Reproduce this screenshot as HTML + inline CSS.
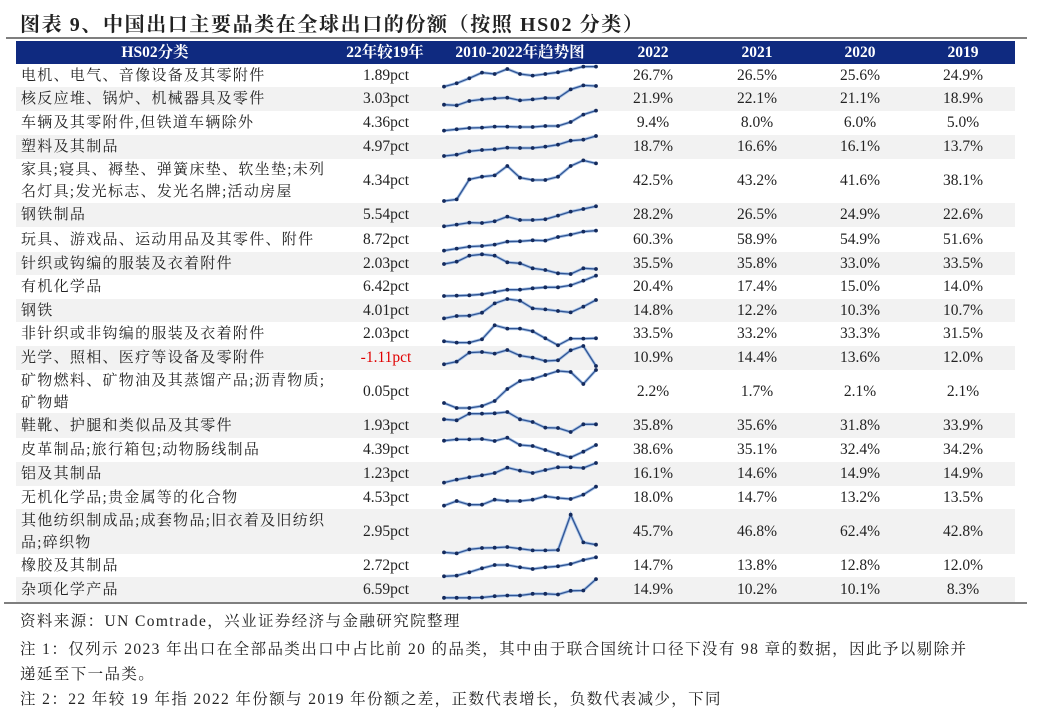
<!DOCTYPE html>
<html><head><meta charset="utf-8">
<style>
body{margin:0;width:1053px;height:720px;background:#fff;position:relative;overflow:hidden;font-family:"Liberation Serif","Noto Serif CJK SC",serif;color:#222}
.abs{position:absolute}
#title{left:20px;top:8px;font-size:20px;font-weight:bold;letter-spacing:1.6px;white-space:nowrap;font-family:"Liberation Serif","Noto Serif CJK SC",serif}
.hdr{top:41px;height:23px;line-height:23px;color:#fff;font-weight:bold;font-size:15.5px;text-align:center}
.row{left:16px;width:999px}
.cat{left:21px;font-size:15px;line-height:22px;letter-spacing:1.3px;white-space:nowrap}
.num{font-size:15.5px;text-align:center;width:100px}
.note{left:20px;font-size:15.5px;letter-spacing:1.4px;white-space:nowrap}
</style></head><body>
<div id="title" class="abs">图表 9、中国出口主要品类在全球出口的份额（按照 HS02 分类）</div>
<div class="abs" style="left:6px;top:37px;width:1021px;height:2px;background:#7f7f7f"></div>
<div class="abs" style="left:16px;top:41px;width:999px;height:23px;background:#0f2a80"></div>
<div class="abs hdr" style="left:100px;width:110px">HS02分类</div>
<div class="abs hdr" style="left:330px;width:110px">22年较19年</div>
<div class="abs hdr" style="left:445px;width:150px">2010-2022年趋势图</div>
<div class="abs hdr" style="left:603px;width:100px">2022</div>
<div class="abs hdr" style="left:707px;width:100px">2021</div>
<div class="abs hdr" style="left:810px;width:100px">2020</div>
<div class="abs hdr" style="left:913px;width:100px">2019</div>
<div id="rows"></div>
<svg id="spark" class="abs" style="left:0;top:0" width="1053" height="720"></svg>
<div class="abs" style="left:4px;top:602px;width:1023px;height:2px;background:#7f7f7f"></div>
<div class="abs note" style="top:609px">资料来源：UN Comtrade，兴业证券经济与金融研究院整理</div>
<div class="abs note" style="top:637px;line-height:25px">注 1：仅列示 2023 年出口在全部品类出口中占比前 20 的品类，其中由于联合国统计口径下没有 98 章的数据，因此予以剔除并<br>递延至下一品类。</div>
<div class="abs note" style="top:687px">注 2：22 年较 19 年指 2022 年份额与 2019 年份额之差，正数代表增长，负数代表减少，下同</div>
<script>
const categories=["电机、电气、音像设备及其零附件","核反应堆、锅炉、机械器具及零件","车辆及其零附件,但铁道车辆除外","塑料及其制品","家具;寝具、褥垫、弹簧床垫、软坐垫;未列<br>名灯具;发光标志、发光名牌;活动房屋","钢铁制品","玩具、游戏品、运动用品及其零件、附件","针织或钩编的服装及衣着附件","有机化学品","钢铁","非针织或非钩编的服装及衣着附件","光学、照相、医疗等设备及零附件","矿物燃料、矿物油及其蒸馏产品;沥青物质;<br>矿物蜡","鞋靴、护腿和类似品及其零件","皮革制品;旅行箱包;动物肠线制品","铝及其制品","无机化学品;贵金属等的化合物","其他纺织制成品;成套物品;旧衣着及旧纺织<br>品;碎织物","橡胶及其制品","杂项化学产品"];
const diffLabels=["1.89pct","3.03pct","4.36pct","4.97pct","4.34pct","5.54pct","8.72pct","2.03pct","6.42pct","4.01pct","2.03pct","-1.11pct","0.05pct","1.93pct","4.39pct","1.23pct","4.53pct","2.95pct","2.72pct","6.59pct"];
const v2022=["26.7%","21.9%","9.4%","18.7%","42.5%","28.2%","60.3%","35.5%","20.4%","14.8%","33.5%","10.9%","2.2%","35.8%","38.6%","16.1%","18.0%","45.7%","14.7%","14.9%"];
const v2021=["26.5%","22.1%","8.0%","16.6%","43.2%","26.5%","58.9%","35.8%","17.4%","12.2%","33.2%","14.4%","1.7%","35.6%","35.1%","14.6%","14.7%","46.8%","13.8%","10.2%"];
const v2020=["25.6%","21.1%","6.0%","16.1%","41.6%","24.9%","54.9%","33.0%","15.0%","10.3%","33.3%","13.6%","2.1%","31.8%","32.4%","14.9%","13.2%","62.4%","12.8%","10.1%"];
const v2019=["24.9%","18.9%","5.0%","13.7%","38.1%","22.6%","51.6%","33.5%","14.0%","10.7%","31.5%","12.0%","2.1%","33.9%","34.2%","14.9%","13.5%","42.8%","12.0%","8.3%"];
const years=[2010,2011,2012,2013,2014,2015,2016,2017,2018,2019,2020,2021,2022];
const trend0=[2,12,27,44,40,55,40,35,40,45,53,62,62];
const trend1=[12,10,23,28,31,33,25,28,32,32,58,70,68];
const trend2=[8,12,16,17,20,20,19,19,22,22,34,56,68];
const trend3=[6,10,20,24,26,31,30,30,34,40,52,55,66];
const trend4=[5,10,70,78,82,110,75,68,68,78,110,127,118];
const trend5=[3,8,14,13,18,32,22,22,24,35,47,55,63];
const trend6=[5,11,17,19,23,32,33,36,35,46,53,62,65];
const trend7=[33,40,58,62,58,38,35,20,15,5,3,20,18];
const trend8=[6,7,8,11,18,25,25,29,32,32,38,52,67];
const trend9=[7,14,15,24,52,65,60,37,34,29,25,42,62];
const trend10=[15,11,11,21,63,53,53,45,24,3,23,23,24];
const trend11=[12,20,47,49,44,55,38,32,22,24,54,67,7];
const trend12=[24,9,9,15,30,66,90,96,108,120,117,81,123];
const trend13=[50,47,67,67,68,72,50,42,25,24,12,35,35];
const trend14=[60,64,64,65,59,69,47,44,32,20,10,27,47];
const trend15=[8,17,24,30,37,53,44,37,46,54,54,52,67];
const trend16=[7,21,10,10,25,21,21,25,35,30,27,40,64];
const trend17=[7,4,16,20,21,23,18,13,13,14,120,37,30];
const trend18=[3,5,15,27,37,37,30,25,30,33,40,52,60];
const trend19=[2,2,2,3,7,9,9,14,14,12,23,24,58];
const trends=[trend0,trend1,trend2,trend3,trend4,trend5,trend6,trend7,trend8,trend9,trend10,trend11,trend12,trend13,trend14,trend15,trend16,trend17,trend18,trend19];

// layout (not data)
const rowEdges=[64,87,111,135,159,203,227,252,275,299,322,346,370,413,438,462,486,509,554,577,602];
const baseOffset=[0.3,-2.3,-1.7,-1,-0.3,0.3,0.3,0,-1,-1.3,0.3,-1.7,-2,-2,-1.3,-0.7,-1,0.7,0.3,-3.5];
function xScale(i){return 444+i*(596-444)/(years.length-1);}
function yScale(r,v){return rowEdges[r+1]+baseOffset[r]-v/3;}

const rowsEl=document.getElementById('rows');
const svg=document.getElementById('spark');
const NS="http://www.w3.org/2000/svg";
for(let r=0;r<categories.length;r++){
  const top=rowEdges[r],h=rowEdges[r+1]-rowEdges[r];
  const bg=document.createElement('div');
  bg.className='abs row';
  
  
  bg.style.top=top+'px';bg.style.height=h+'px';
  bg.style.background=(r%2===1)?'#f2f2f2':'#fff';
  rowsEl.appendChild(bg);
  const c=document.createElement('div');
  c.className='abs cat';
  
  
  c.innerHTML=categories[r];
  const lines=categories[r].indexOf('<br>')>=0?2:1;
  c.style.top=(top+(h-22*lines)/2)+'px';
  rowsEl.appendChild(c);
  const cols=[[diffLabels,336],[v2022,603],[v2021,707],[v2020,810],[v2019,913]];
  cols.forEach((cd,k)=>{
    const d=document.createElement('div');
    d.className='abs num';
    
    
    d.textContent=cd[0][r];
    d.style.left=cd[1]+'px';d.style.top=top+'px';
    d.style.height=h+'px';d.style.lineHeight=h+'px';
    if(k===0&&cd[0][r].charAt(0)==='-')d.style.color='#e00000';
    rowsEl.appendChild(d);
  });
  const vals=trends[r];
  const pts=vals.map((v,i)=>xScale(i).toFixed(1)+','+yScale(r,v).toFixed(1)).join(' ');
  const halo=document.createElementNS(NS,'polyline');
  
  
  halo.setAttribute('points',pts);
  halo.setAttribute('fill','none');halo.setAttribute('stroke','#a9c3e6');halo.setAttribute('stroke-width','3');
  svg.appendChild(halo);
  const ln=document.createElementNS(NS,'polyline');
  
  
  ln.setAttribute('points',pts);
  ln.setAttribute('fill','none');ln.setAttribute('stroke','#2f5494');ln.setAttribute('stroke-width','1.3');
  svg.appendChild(ln);
  vals.forEach((v,i)=>{
    const p=document.createElementNS(NS,'circle');
    
    
    p.setAttribute('cx',xScale(i));p.setAttribute('cy',yScale(r,v));
    p.setAttribute('r','1.9');p.setAttribute('fill','#142a5c');
    svg.appendChild(p);
  });
}
</script>
</body></html>
